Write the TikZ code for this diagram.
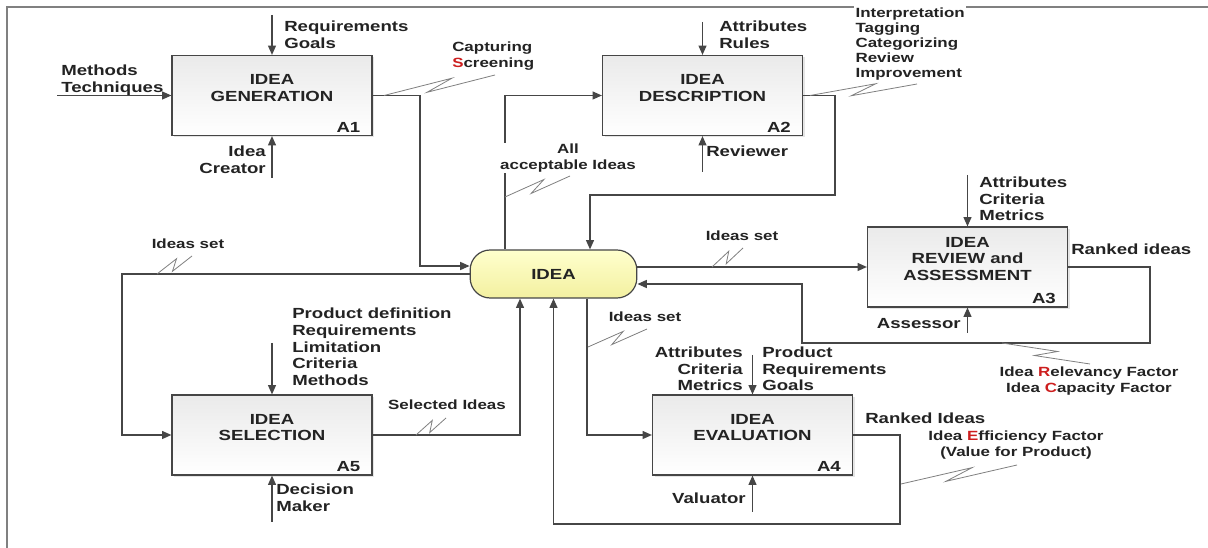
\documentclass[tikz,border=0pt]{standalone}
\usepackage{fontspec}
\setmainfont{Liberation Sans}[FakeStretch=1.27]
\usetikzlibrary{arrows.meta}
\usetikzlibrary{calc}
\usetikzlibrary{shadows}

\definecolor{linec}{RGB}{70,70,70}
\definecolor{txt}{RGB}{35,35,35}
\definecolor{boxtop}{RGB}{234,234,234}
\definecolor{ideatop}{RGB}{255,255,205}
\definecolor{ideabot}{RGB}{243,240,160}
\definecolor{redl}{RGB}{205,30,30}

% tilde that ties a label to its arrow
\newcommand{\squig}[2]{\draw[tilde] (#1) -- ($(#1)!0.62!(#2)!3.5pt!90:(#2)$) -- ($(#1)!0.38!(#2)!3.5pt!-90:(#2)$) -- (#2);}

\begin{document}
\begin{tikzpicture}[x=0.75pt,y=-0.75pt,
	box/.style={draw=linec, line width=0.9pt, top color=boxtop, bottom color=white, minimum width=150pt, minimum height=60pt, drop shadow={shadow xshift=1.5pt,shadow yshift=-1.5pt,opacity=0.2}},
	idea/.style={draw=linec, line width=0.9pt, rounded corners=15pt, top color=ideatop, bottom color=ideabot, minimum width=125pt, minimum height=36pt, text=txt, font=\bfseries\fontsize{11pt}{12.4pt}\selectfont},
	title/.style={align=center, inner sep=0pt, text=txt, font=\bfseries\fontsize{11pt}{12.4pt}\selectfont},
	lab/.style={inner sep=0pt, text=txt, font=\bfseries\fontsize{11pt}{12.5pt}\selectfont},
	note/.style={inner sep=0pt, text=txt, font=\bfseries\fontsize{10pt}{11.4pt}\selectfont},
	num/.style={anchor=south east, inner sep=0pt, xshift=-9pt, yshift=2.5pt, text=txt, font=\bfseries\fontsize{11pt}{12pt}\selectfont},
	flow/.style={draw=linec, line width=0.9pt, -{Triangle[length=7pt,width=6pt]}},
	tilde/.style={draw=gray, line width=0.6pt}]

	\useasboundingbox[fill=white] (0,0) rectangle (1208,548);
	\draw[gray, line width=0.8pt] (7,548) -- (7,7) -- (1208,7);

	% activities
	\node[box] (a1) at (272,95.5) {};
	\node[box] (a2) at (702.5,95.5) {};
	\node[box] (a3) at (967.5,267) {};
	\node[box] (a4) at (752.5,435) {};
	\node[box] (a5) at (272,435) {};
	\node[idea] (idea) at (553.5,274) {IDEA};

	\node[title] (t1) at ([yshift=5.5pt]a1.center) {IDEA\\GENERATION};
	\node[title] (t2) at ([yshift=5.5pt]a2.center) {IDEA\\DESCRIPTION};
	\node[title] (t3) at ([yshift=6pt]a3.center) {IDEA\\REVIEW and\\ASSESSMENT};
	\node[title] (t4) at ([yshift=5.5pt]a4.center) {IDEA\\EVALUATION};
	\node[title] (t5) at ([yshift=5.5pt]a5.center) {IDEA\\SELECTION};
	\node[num] (n1) at (a1.south east) {A1};
	\node[num] (n2) at (a2.south east) {A2};
	\node[num] (n3) at (a3.south east) {A3};
	\node[num] (n4) at (a4.south east) {A4};
	\node[num] (n5) at (a5.south east) {A5};

	% A1
	\coordinate (r1) at (272,15);
	\coordinate (m1) at (272,178);
	\coordinate (i1) at (57,95.5);
	\draw[flow] (r1) -- (a1.north);
	\draw[flow] (m1) -- (a1.south);
	\draw[flow] (i1) -- (a1.west);
	\node[lab, anchor=west, align=left] (lr1) at (284,35) {Requirements\\Goals};
	\node[lab, anchor=west, align=left] (li1) at (61,80) {Methods\\Techniques};
	\node[lab, anchor=east, align=right] (lm1) at (266,160) {Idea\\Creator};
	\coordinate (j1) at (420,266);
	\draw[flow] (a1.east) -| (j1) -- (j1 -| idea.west);
	\node[note, anchor=west, align=left] (lo1) at (452,56) {Capturing\\\textcolor{redl}{S}creening};
	\coordinate (z1a) at (384,95.5);
	\coordinate (z1b) at (495,75);
	\squig{z1a}{z1b}

	% A2
	\coordinate (r2) at (702.5,22);
	\coordinate (m2) at (702.5,172);
	\draw[flow] (r2) -- (a2.north);
	\draw[flow] (m2) -- (a2.south);
	\node[lab, anchor=west, align=left] (lr2) at (719,35) {Attributes\\Rules};
	\node[lab, anchor=west] (lm2) at (706,151) {Reviewer};
	\coordinate (j2) at (505,95.5);
	\draw[flow] (idea.north -| j2) -- (j2) -- (a2.west);
	\node[note, align=center, fill=white, inner sep=1pt] (li2) at (568,158) {All\\acceptable Ideas};
	\coordinate (z2a) at (505,197);
	\coordinate (z2b) at (570,176);
	\squig{z2a}{z2b}
	\coordinate (j3) at (835,195);
	\coordinate (j4) at (590,195);
	\draw[flow] (a2.east) -| (j3) -- (j4) -- (j4 |- idea.north);
	\node[note, anchor=west, align=left, fill=white, inner sep=1pt] (lo2) at (854,44) {Interpretation\\Tagging\\Categorizing\\Review\\Improvement};
	\coordinate (z3a) at (810,95.5);
	\coordinate (z3b) at (917,84);
	\squig{z3a}{z3b}

	% A3
	\coordinate (r3) at (967.5,175);
	\coordinate (m3) at (967.5,333);
	\draw[flow] (r3) -- (a3.north);
	\draw[flow] (m3) -- (a3.south);
	\node[lab, anchor=west, align=left] (lr3) at (979,199) {Attributes\\Criteria\\Metrics};
	\node[lab, anchor=east] (lm3) at (961,324) {Assessor};
	\draw[flow] (idea.east |- a3.west) -- (a3.west);
	\node[note] (ls3) at (742,236) {Ideas set};
	\coordinate (z4a) at (712,267);
	\coordinate (z4b) at (743,248);
	\squig{z4a}{z4b}
	\coordinate (j5) at (1150,343);
	\coordinate (j6) at (802,284);
	\draw[flow] (a3.east) -| (j5) -| (j6) -- (j6 -| idea.east);
	\node[lab, anchor=west] (lo3) at (1071,249) {Ranked ideas};
	\node[note, align=center] (lf3) at (1089,381) {Idea \textcolor{redl}{R}elevancy Factor\\Idea \textcolor{redl}{C}apacity Factor};
	\coordinate (z5a) at (1002,343);
	\coordinate (z5b) at (1090,364);
	\squig{z5a}{z5b}

	% A5
	\coordinate (r5) at (272,343);
	\coordinate (m5) at (272,522);
	\draw[flow] (r5) -- (a5.north);
	\draw[flow] (m5) -- (a5.south);
	\node[lab, anchor=west, align=left] (lr5) at (292,347) {Product definition\\Requirements\\Limitation\\Criteria\\Methods};
	\node[lab, anchor=west, align=left] (lm5) at (276,498) {Decision\\Maker};
	\coordinate (j7) at (122,350);
	\draw[flow] (idea.west) -| (j7) |- (a5.west);
	\node[note] (ls5) at (188,244) {Ideas set};
	\coordinate (z6a) at (157,274);
	\coordinate (z6b) at (192,256);
	\squig{z6a}{z6b}
	\coordinate (j8) at (520,435);
	\draw[flow] (a5.east) -- (j8) -- (j8 |- idea.south);
	\node[note] (lo5) at (447,405) {Selected Ideas};
	\coordinate (z7a) at (416,435);
	\coordinate (z7b) at (446,418);
	\squig{z7a}{z7b}

	% A4
	\coordinate (r4) at (752.5,355);
	\coordinate (m4) at (752.5,512);
	\draw[flow] (r4) -- (a4.north);
	\draw[flow] (m4) -- (a4.south);
	\node[lab, anchor=east, align=right] (lr4) at (743,369) {Attributes\\Criteria\\Metrics};
	\node[lab, anchor=west, align=left] (lp4) at (762,369) {Product\\Requirements\\Goals};
	\node[lab, anchor=east] (lm4) at (746,498) {Valuator};
	\coordinate (j9) at (587,435);
	\draw[flow] (j9 |- idea.south) -- (j9) -- (a4.west);
	\node[note] (ls4) at (645,317) {Ideas set};
	\coordinate (z8a) at (588,347);
	\coordinate (z8b) at (647,329);
	\squig{z8a}{z8b}
	\coordinate (j10) at (900,524);
	\draw[flow] (a4.east) -| (j10) -| (idea.south);
	\node[lab, anchor=west] (lo4) at (865,418) {Ranked Ideas};
	\node[note, align=center] (le4) at (1016,445) {Idea \textcolor{redl}{E}fficiency Factor\\(Value for Product)};
	\coordinate (z9a) at (901,484);
	\coordinate (z9b) at (1017,465);
	\squig{z9a}{z9b}
\end{tikzpicture}
\end{document}
